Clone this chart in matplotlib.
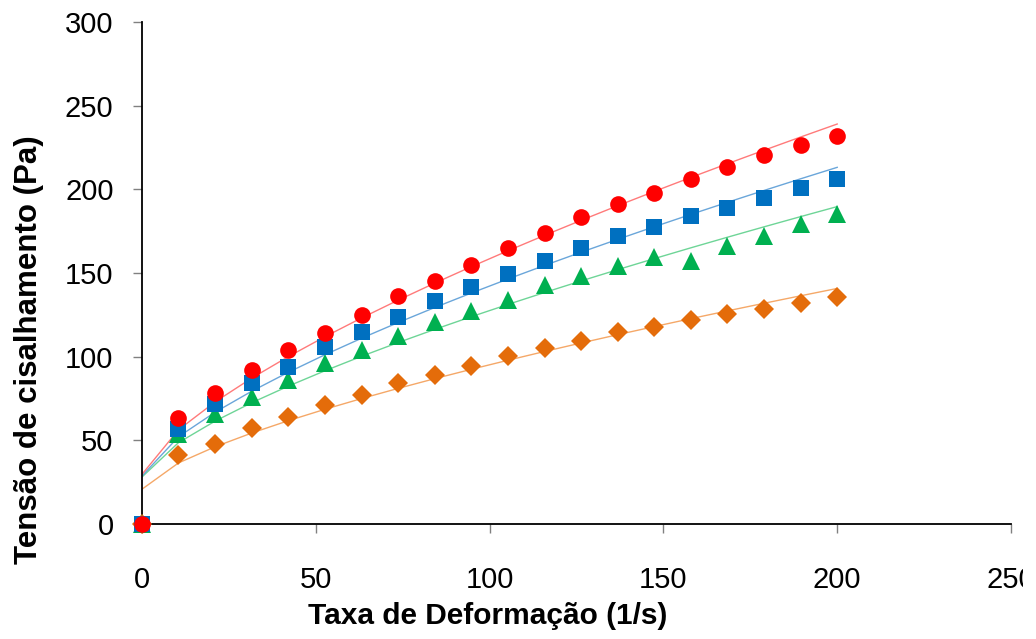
import numpy as np
import matplotlib
matplotlib.use("Agg")
import matplotlib.pyplot as plt
from matplotlib.transforms import Bbox, TransformedBbox

plt.rcParams['font.family'] = ['Liberation Sans', 'DejaVu Sans']

# taxa de deformação (1/s)
taxa = [0, 10.5, 21.1, 31.6, 42.1, 52.6, 63.2, 73.7, 84.2, 94.7,
        105.3, 115.8, 126.3, 136.8, 147.4, 157.9, 168.4, 178.9, 189.5, 200]

# tensão de cisalhamento medida (Pa)
tensao_vermelho = [0, 63.5, 78, 92, 104, 114, 125, 136, 145.5, 155,
                   165, 174, 183.4, 191, 198, 206, 213.3, 220.4, 226.3, 232]
tensao_azul = [0, 57, 72, 84, 94, 106, 115, 124, 133, 141.5,
               149.5, 157.3, 164.9, 171.9, 177.4, 184, 189, 195, 200.8, 206.4]
tensao_verde = [0, 54, 66, 76, 86, 96, 104, 112.6, 120.5, 127.5,
                134.1, 142.9, 148, 154, 159.5, 157, 166, 171.9, 179.5, 185.5]
tensao_laranja = [0, 41, 48, 57.5, 64, 71, 77, 84.2, 89.2, 94.6,
                  100.6, 105.2, 109.6, 115, 118, 122, 125.6, 128.6, 132.2, 135.5]

# parâmetros do ajuste Herschel-Bulkley: tau0, K, n
ajuste_vermelho = (29.7, 5.13, 0.70)
ajuste_azul = (28.7, 4.52, 0.70)
ajuste_verde = (28.1, 3.96, 0.70)
ajuste_laranja = (20.8, 3.10, 0.69)

series = [
    (tensao_laranja, ajuste_laranja, 'D', 10, '#E46C0A', '#F5A868'),
    (tensao_verde, ajuste_verde, '^', 13.5, '#00B050', '#6ED597'),
    (tensao_azul, ajuste_azul, 's', 11.5, '#0070C0', '#6AA6DA'),
    (tensao_vermelho, ajuste_vermelho, 'o', 12, '#FF0000', '#FF7A7A'),
]

fig = plt.figure(figsize=(10.36, 6.39), dpi=100)
ax = fig.add_axes([142 / 1036, 1 - 524 / 639, 869 / 1036, 502 / 639])

x = np.array(taxa)
for valores, (tau0, K, n), marcador, tam, cor, cor_linha in series:
    ax.plot(x, tau0 + K * x ** n, color=cor_linha, lw=1.0, zorder=2)
    ax.plot(x, valores, linestyle='none', marker=marcador, markersize=tam,
            color=cor, markeredgewidth=0, zorder=3, clip_on=False)

ax.set_xlim(0, 250)
ax.set_ylim(0, 300)
ax.set_xticks([0, 50, 100, 150, 200, 250])
ax.set_yticks([0, 50, 100, 150, 200, 250, 300])

for lado in ['top', 'right']:
    ax.spines[lado].set_visible(False)
for lado in ['left', 'bottom']:
    ax.spines[lado].set_color('black')
    ax.spines[lado].set_linewidth(1.3)

ax.tick_params(axis='both', direction='out', length=6.5, width=1,
               color='#808080', labelsize=21)
ax.tick_params(axis='x', pad=24)
ax.tick_params(axis='y', pad=14)

# a área do gráfico termina antes da borda: o último rótulo fica cortado
corte = TransformedBbox(Bbox([[0, 0], [1023 / 1036, 1]]), fig.transFigure)
for rotulo in ax.get_xticklabels():
    rotulo.set_clip_box(corte)
    rotulo.set_clip_on(True)

fig.text(488 / 1036, 1 - 616 / 639, 'Taxa de Deformação (1/s)',
         ha='center', va='center', fontsize=21.5, fontweight='bold')
fig.text(29 / 1036, 1 - 350 / 639, 'Tensão de cisalhamento (Pa)',
         ha='center', va='center', rotation=90, fontsize=22.5, fontweight='bold')

fig.savefig('out.png', dpi=100)
